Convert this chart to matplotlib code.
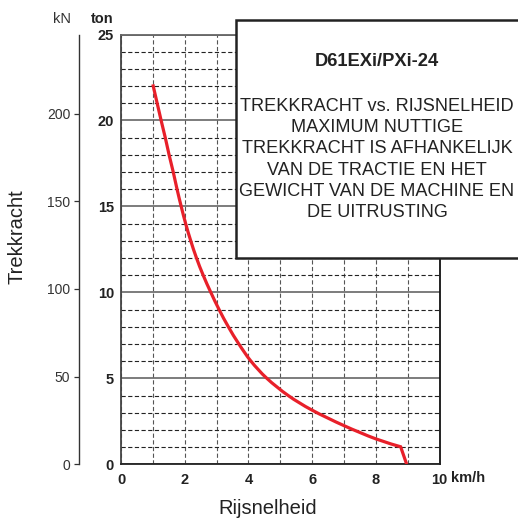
import matplotlib
matplotlib.use('Agg')
import matplotlib.pyplot as plt
from matplotlib.patches import Rectangle, PathPatch
from matplotlib.path import Path

# ---- data ----
speed_kmh = [1.0, 1.26, 1.39, 1.51, 1.64, 1.76, 1.89, 2.03, 2.19, 2.37, 2.58, 2.82,
             3.08, 3.37, 3.70, 4.08, 4.58, 5.25, 6.0, 7.0, 8.0, 8.78, 8.97]
pull_ton = [22.1, 20.0, 19.0, 18.0, 17.0, 16.0, 15.0, 14.0, 13.0, 12.0, 11.0, 10.0,
            9.0, 8.0, 7.0, 6.0, 5.0, 4.0, 3.15, 2.25, 1.48, 1.02, 0.0]
kn_ticks = [0, 50, 100, 150, 200]
ton_ticks = [0, 5, 10, 15, 20, 25]
ton_minor = [t for t in range(1, 25) if t % 5]
speed_ticks = [0, 2, 4, 6, 8, 10]
speed_minor = [1, 3, 5, 7, 9]
speed_labels = ['0', '2', '4', '6', '8', '10']
title = 'D61EXi/PXi-24'
note_lines = ['TREKKRACHT vs. RIJSNELHEID', 'MAXIMUM NUTTIGE',
              'TREKKRACHT IS AFHANKELIJK', 'VAN DE TRACTIE EN HET',
              'GEWICHT VAN DE MACHINE EN', 'DE UITRUSTING']
KN_PER_TON = 9.80665
KNEE = 21  # index where the curve turns sharply down

plt.rcParams['font.family'] = ['Liberation Sans', 'DejaVu Sans']
W, H = 518, 519
fig = plt.figure(figsize=(W / 100, H / 100), dpi=100)
ax = fig.add_axes([121 / W, 1 - 464.3 / H, (439.5 - 121) / W, (464.3 - 34.5) / H])
ax.set_xlim(0, 10)
ax.set_ylim(0, 25)

ax.set_xticks(speed_ticks)
ax.set_xticklabels(speed_labels)
ax.set_xticks(speed_minor, minor=True)
ax.set_yticks(ton_ticks)
ax.set_yticks(ton_minor, minor=True)
ax.tick_params(which='both', length=0)
ax.tick_params(axis='x', pad=6, labelsize=10.5, labelcolor='#222')
ax.tick_params(axis='y', pad=5, labelsize=10.5, labelcolor='#222')
for lab in ax.get_xticklabels() + ax.get_yticklabels():
    lab.set_fontweight('bold')

ax.grid(which='both', axis='x', color='#555', lw=0.8, ls=(0, (3.8, 2.2)))
ax.grid(which='minor', axis='y', color='#222', lw=0.8, ls=(0, (3.8, 2.2)))
ax.grid(which='major', axis='y', color='#666', lw=1.2, ls='-')
ax.set_axisbelow(True)

for side, col in [('left', '#444'), ('bottom', '#222'), ('right', '#111'), ('top', '#666')]:
    ax.spines[side].set_color(col)
    ax.spines[side].set_linewidth(1.3)

# smooth (Catmull-Rom -> Bezier) rendering through the read points, sharp knee
pts = list(zip(speed_kmh, pull_ton))
smooth = pts[:KNEE + 1]
verts = [smooth[0]]
codes = [Path.MOVETO]
n = len(smooth)
for i in range(n - 1):
    p0 = smooth[max(i - 1, 0)]
    p1 = smooth[i]
    p2 = smooth[i + 1]
    p3 = smooth[min(i + 2, n - 1)]
    c1 = (p1[0] + (p2[0] - p0[0]) / 6, p1[1] + (p2[1] - p0[1]) / 6)
    c2 = (p2[0] - (p3[0] - p1[0]) / 6, p2[1] - (p3[1] - p1[1]) / 6)
    verts += [c1, c2, p2]
    codes += [Path.CURVE4] * 3
for p in pts[KNEE + 1:]:
    verts.append(p)
    codes.append(Path.LINETO)
curve = PathPatch(Path(verts, codes), fill=False, ec='#e8202a', lw=2.3,
                  joinstyle='miter', capstyle='butt', zorder=4)
ax.add_patch(curve)

sec = ax.secondary_yaxis((79.3 - 121) / (439.5 - 121),
                         functions=(lambda t: t * KN_PER_TON, lambda k: k / KN_PER_TON))
sec.set_yticks(kn_ticks)
sec.tick_params(length=3.6, width=0.9, color='#333', labelsize=10, labelcolor='#333', pad=3)
sec.spines['left'].set_color('#333')
sec.spines['left'].set_linewidth(1.0)

# units
fig.text(62 / W, 1 - 23 / H, 'kN', ha='center', va='baseline', fontsize=10.5, color='#333')
fig.text(102 / W, 1 - 23 / H, 'ton', ha='center', va='baseline', fontsize=10.5,
         fontweight='bold', color='#222')
fig.text(450.5 / W, 1 - 482 / H, 'km/h', ha='left', va='baseline', fontsize=10.5,
         fontweight='bold', color='#222')

# axis titles
fig.text(17.5 / W, 1 - 237 / H, 'Trekkracht', rotation=90, ha='center', va='center',
         fontsize=14.5, color='#222')
fig.text(268 / W, 1 - 514 / H, 'Rijsnelheid', ha='center', va='baseline',
         fontsize=14.5, color='#222')

# note box
rect = Rectangle((235.5 / W, 1 - 258 / H), (540 - 235.5) / W, (258 - 20) / H,
                 transform=fig.transFigure, fc='white', ec='#222', lw=1.8,
                 clip_on=False, zorder=5)
fig.add_artist(rect)
cx = 377 / W
fig.text(cx, 1 - 66 / H, title, ha='center', va='baseline', fontsize=13.2,
         fontweight='bold', color='#222', zorder=6)
baselines = [110.7, 131.7, 153.3, 175, 196, 216.7]
for line, b in zip(note_lines, baselines):
    fig.text(cx, 1 - b / H, line, ha='center', va='baseline', fontsize=13.1,
             color='#222', zorder=6)

fig.savefig('out.png', dpi=100)
